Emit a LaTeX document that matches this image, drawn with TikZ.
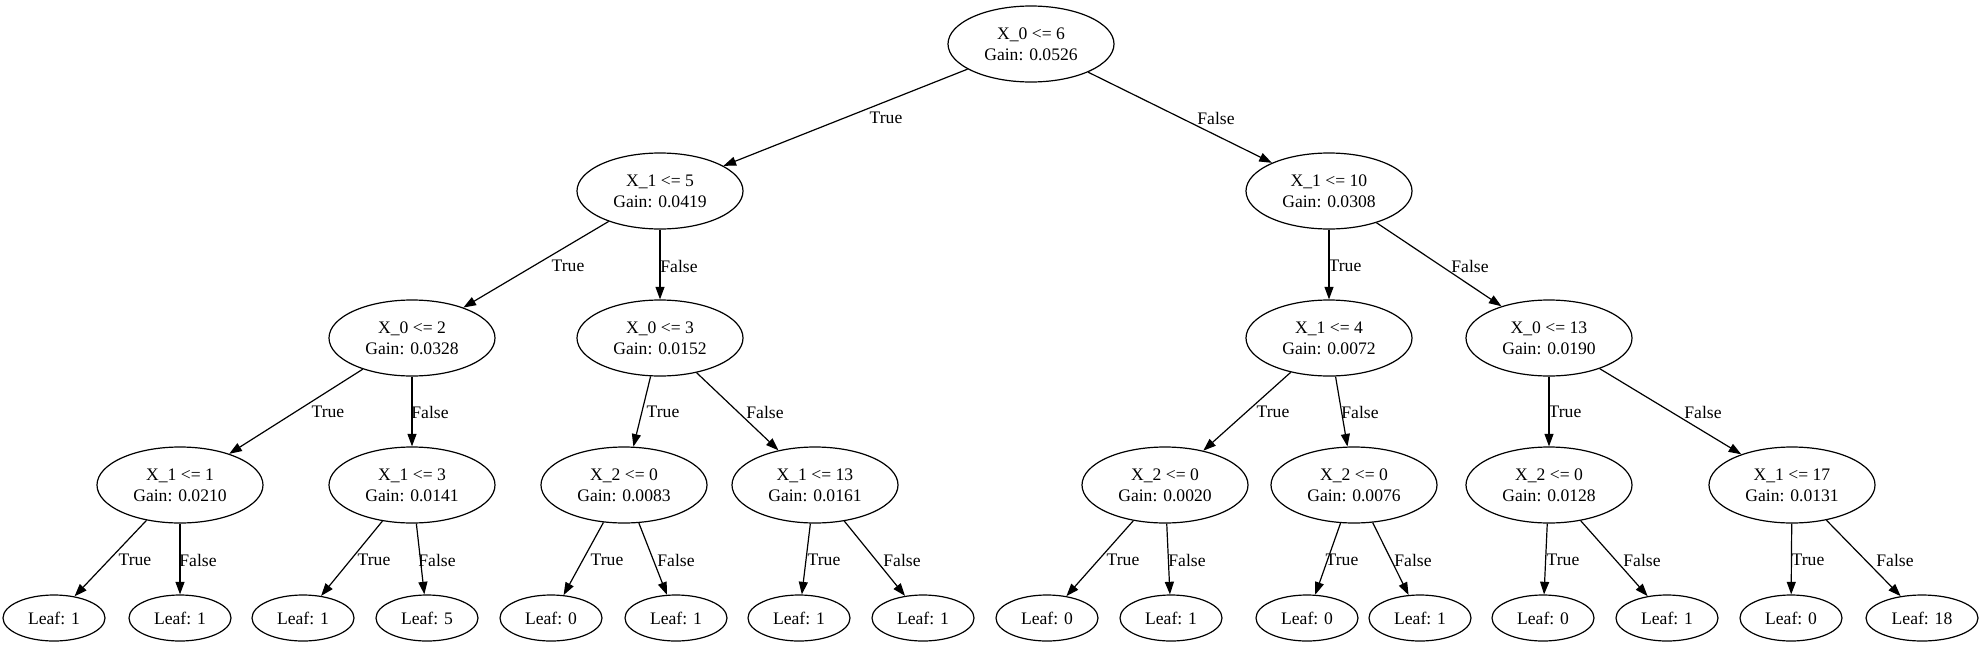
\documentclass[tikz,border=0pt]{standalone}
\usepackage{fontspec}
\setmainfont{Liberation Serif}
\usetikzlibrary{shapes.geometric,arrows.meta}
\tikzset{
  inner/.style={draw, ellipse, line width=1.2pt, minimum width=166pt, minimum height=76pt, inner sep=0pt, align=center, font=\fontsize{17.6}{21}\selectfont},
  leaf/.style={draw, ellipse, line width=1.2pt, minimum width=102pt, minimum height=46pt, inner sep=0pt, font=\fontsize{17.6}{21}\selectfont},
  edge/.style={line width=1.2pt, -{Triangle[length=12.6pt,width=9pt]}},
  lbl/.style={font=\fontsize{17.6}{21}\selectfont, inner sep=0pt}
}
\begin{document}
\begin{tikzpicture}[x=1pt,y=-1pt]
\useasboundingbox (0,0) rectangle (1984,648);
% level 0
\node[inner] (r) at (1031,44) {X\_0 <= 6\\Gain: 0.0526};
% level 1
\node[inner] (a) at (660,191) {X\_1 <= 5\\Gain: 0.0419};
\node[inner] (b) at (1329,191) {X\_1 <= 10\\Gain: 0.0308};
% level 2
\node[inner] (aa) at (412,338) {X\_0 <= 2\\Gain: 0.0328};
\node[inner] (ab) at (660,338) {X\_0 <= 3\\Gain: 0.0152};
\node[inner] (ba) at (1329,338) {X\_1 <= 4\\Gain: 0.0072};
\node[inner] (bb) at (1549,338) {X\_0 <= 13\\Gain: 0.0190};
% level 3
\node[inner] (aaa) at (180,485) {X\_1 <= 1\\Gain: 0.0210};
\node[inner] (aab) at (412,485) {X\_1 <= 3\\Gain: 0.0141};
\node[inner] (aba) at (624,485) {X\_2 <= 0\\Gain: 0.0083};
\node[inner] (abb) at (815,485) {X\_1 <= 13\\Gain: 0.0161};
\node[inner] (baa) at (1165,485) {X\_2 <= 0\\Gain: 0.0020};
\node[inner] (bab) at (1354,485) {X\_2 <= 0\\Gain: 0.0076};
\node[inner] (bba) at (1549,485) {X\_2 <= 0\\Gain: 0.0128};
\node[inner] (bbb) at (1792,485) {X\_1 <= 17\\Gain: 0.0131};
% leaves
\node[leaf] (l1) at (54,618) {Leaf: 1};
\node[leaf] (l2) at (180,618) {Leaf: 1};
\node[leaf] (l3) at (303,618) {Leaf: 1};
\node[leaf] (l4) at (427,618) {Leaf: 5};
\node[leaf] (l5) at (551,618) {Leaf: 0};
\node[leaf] (l6) at (676,618) {Leaf: 1};
\node[leaf] (l7) at (799,618) {Leaf: 1};
\node[leaf] (l8) at (923,618) {Leaf: 1};
\node[leaf] (l9) at (1047,618) {Leaf: 0};
\node[leaf] (l10) at (1171,618) {Leaf: 1};
\node[leaf] (l11) at (1307,618) {Leaf: 0};
\node[leaf] (l12) at (1420,618) {Leaf: 1};
\node[leaf] (l13) at (1543,618) {Leaf: 0};
\node[leaf] (l14) at (1667,618) {Leaf: 1};
\node[leaf] (l15) at (1791,618) {Leaf: 0};
\node[leaf, minimum width=112pt] (l16) at (1922,618) {Leaf: 18};
% edges level 0-1
\draw[edge] (r) -- (a) node[lbl] at (886,118) {True};
\draw[edge] (r) -- (b) node[lbl] at (1216,118) {False};
% level 1-2
\draw[edge] (a) -- (aa) node[lbl] at (568,266) {True};
\draw[edge] (a) -- (ab) node[lbl] at (679,266) {False};
\draw[edge] (b) -- (ba) node[lbl] at (1345,266) {True};
\draw[edge] (b) -- (bb) node[lbl] at (1470,266) {False};
% level 2-3
\draw[edge] (aa) -- (aaa) node[lbl] at (328,412) {True};
\draw[edge] (aa) -- (aab) node[lbl] at (430,412) {False};
\draw[edge] (ab) -- (aba) node[lbl] at (663,412) {True};
\draw[edge] (ab) -- (abb) node[lbl] at (765,412) {False};
\draw[edge] (ba) -- (baa) node[lbl] at (1273,412) {True};
\draw[edge] (ba) -- (bab) node[lbl] at (1360,412) {False};
\draw[edge] (bb) -- (bba) node[lbl] at (1565,412) {True};
\draw[edge] (bb) -- (bbb) node[lbl] at (1703,412) {False};
% level 3-4
\draw[edge] (aaa) -- (l1) node[lbl] at (135,560) {True};
\draw[edge] (aaa) -- (l2) node[lbl] at (198,560) {False};
\draw[edge] (aab) -- (l3) node[lbl] at (374,560) {True};
\draw[edge] (aab) -- (l4) node[lbl] at (437,560) {False};
\draw[edge] (aba) -- (l5) node[lbl] at (607,560) {True};
\draw[edge] (aba) -- (l6) node[lbl] at (676,560) {False};
\draw[edge] (abb) -- (l7) node[lbl] at (824,560) {True};
\draw[edge] (abb) -- (l8) node[lbl] at (902,560) {False};
\draw[edge] (baa) -- (l9) node[lbl] at (1123,560) {True};
\draw[edge] (baa) -- (l10) node[lbl] at (1187,560) {False};
\draw[edge] (bab) -- (l11) node[lbl] at (1342,560) {True};
\draw[edge] (bab) -- (l12) node[lbl] at (1413,560) {False};
\draw[edge] (bba) -- (l13) node[lbl] at (1563,560) {True};
\draw[edge] (bba) -- (l14) node[lbl] at (1642,560) {False};
\draw[edge] (bbb) -- (l15) node[lbl] at (1808,560) {True};
\draw[edge] (bbb) -- (l16) node[lbl] at (1895,560) {False};
\end{tikzpicture}
\end{document}
